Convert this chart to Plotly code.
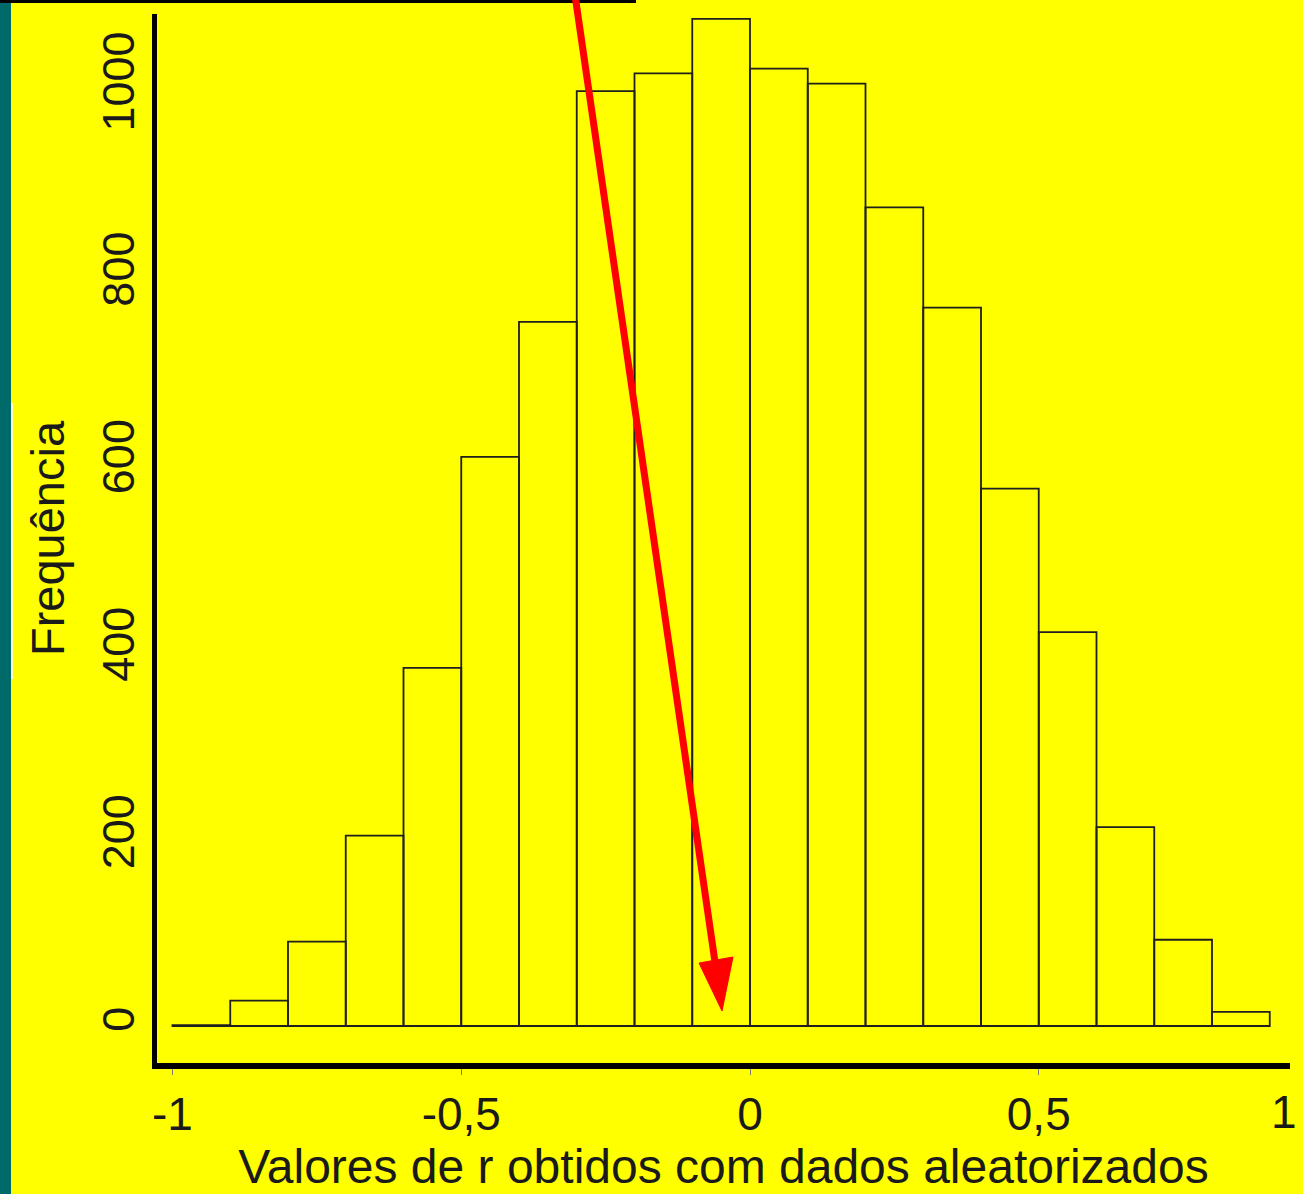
import plotly.graph_objects as go

# ---- data ----
bin_edges = [-1.0, -0.9, -0.8, -0.7, -0.6, -0.5, -0.4, -0.3, -0.2, -0.1,
             0.0, 0.1, 0.2, 0.3, 0.4, 0.5, 0.6, 0.7, 0.8, 0.9]
counts = [1, 27, 90, 203, 382, 607, 751, 997, 1016, 1074,
          1021, 1005, 873, 766, 573, 420, 212, 92, 15]
x_tickvals = [-1, -0.5, 0, 0.5]
x_ticktext = ["-1", "-0,5", "0", "0,5"]
y_tickvals = [0, 200, 400, 600, 800, 1000]
y_ticktext = ["0", "200", "400", "600", "800", "1000"]
x_title = "Valores de r obtidos com dados aleatorizados"
y_title = "Frequência"

centers = [(a + b) / 2 for a, b in zip(bin_edges[:-1], bin_edges[1:])]
widths = [b - a for a, b in zip(bin_edges[:-1], bin_edges[1:])]

W, H = 1303, 1194
L, R, T, B = 157, 13, 14, 131
PW, PH = W - L - R, H - T - B

def px(x):
    return (x - L) / PW

def py(y):
    return (H - B - y) / PH

YELLOW = "#ffff00"
FONT = "Liberation Sans, Arial, Helvetica, sans-serif"
TXT = "#1a1a1a"

fig = go.Figure()
fig.add_trace(go.Bar(
    x=centers, y=counts, width=widths,
    marker=dict(color="rgba(0,0,0,0)", line=dict(color="#1f1f1f", width=1.8)),
    hoverinfo="x+y",
))

shapes = [
    # teal strip at left edge
    dict(type="rect", xref="paper", yref="paper", x0=px(0), x1=px(11), y0=py(H), y1=py(0),
         fillcolor="#006a6a", line=dict(width=0), layer="above"),
    # pale edge of text box
    dict(type="rect", xref="paper", yref="paper", x0=px(11), x1=px(13), y0=py(679), y1=py(403),
         fillcolor="#ffffc8", line=dict(width=0), layer="above"),
    # black line at top
    dict(type="rect", xref="paper", yref="paper", x0=px(0), x1=px(636), y0=py(3), y1=py(0),
         fillcolor="#000000", line=dict(width=0), layer="above"),
    # red arrow shaft
    dict(type="line", xref="paper", yref="paper", x0=px(575), y0=py(-5), x1=px(715), y1=py(962),
         line=dict(color="#ff0000", width=7), layer="above"),
    # red arrow head
    dict(type="path", xref="paper", yref="paper",
         path=f"M {px(722)},{py(1011)} L {px(733)},{py(957)} L {px(699)},{py(963)} Z",
         fillcolor="#ff0000", line=dict(color="#ff0000", width=1), layer="above"),
]

annotations = [
    dict(text="1", xref="paper", yref="paper", x=px(1284), y=py(1112),
         showarrow=False, xanchor="center", yanchor="middle",
         font=dict(family=FONT, size=46, color=TXT)),
]

fig.update_layout(
    width=W, height=H,
    margin=dict(l=L, r=R, t=T, b=B, pad=0),
    paper_bgcolor=YELLOW, plot_bgcolor=YELLOW,
    showlegend=False,
    shapes=shapes, annotations=annotations,
    xaxis=dict(
        range=[(L - 750) / 577.5, (W - R - 750) / 577.5],
        tickvals=x_tickvals, ticktext=x_ticktext,
        showgrid=False, zeroline=False,
        showline=True, linecolor="#000000", linewidth=6,
        ticks="outside", ticklen=6, tickwidth=1.2, tickcolor="#777777",
        tickfont=dict(family=FONT, size=46, color=TXT),
        title=dict(text=x_title, font=dict(family=FONT, size=48, color=TXT), standoff=8),
    ),
    yaxis=dict(
        range=[-(H - B - 1026) / 0.9377, (1026 - T) / 0.9377],
        tickvals=y_tickvals, ticktext=y_ticktext, tickangle=-90,
        showgrid=False, zeroline=False,
        showline=True, linecolor="#000000", linewidth=5,
        ticks="",
        tickfont=dict(family=FONT, size=45, color=TXT),
        title=dict(text=y_title, font=dict(family=FONT, size=47, color=TXT), standoff=15),
    ),
)

fig.write_html("out.html", config={"displayModeBar": False},
               post_script="document.body.style.margin='0';")
